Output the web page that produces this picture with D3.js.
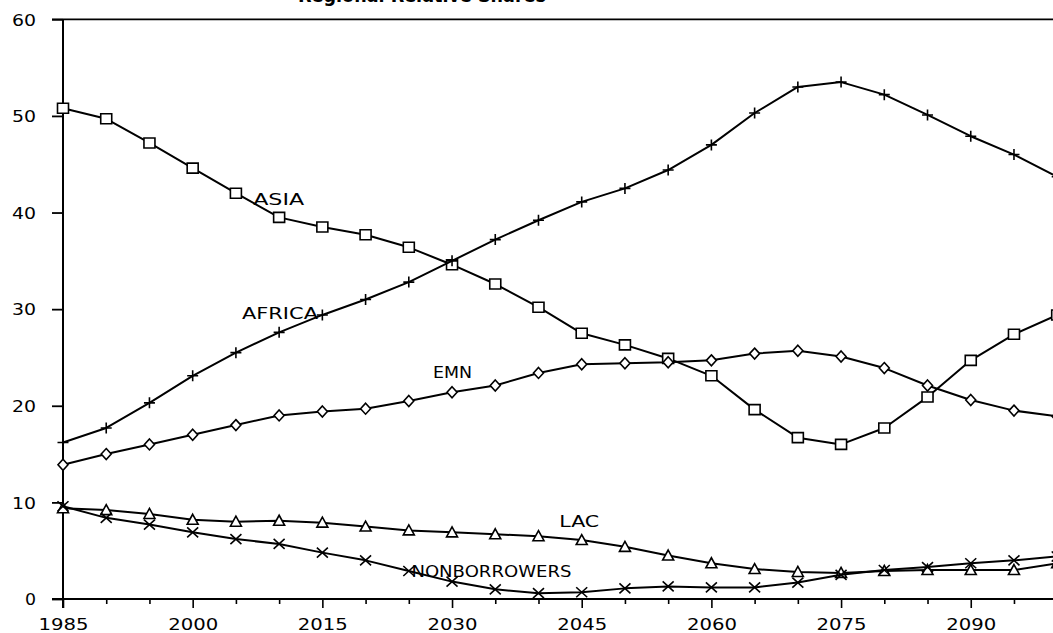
<!DOCTYPE html>
<html>
<head>
<meta charset="utf-8">
<script src="https://cdn.jsdelivr.net/npm/d3@7"></script>
<style>
  html, body { margin: 0; padding: 0; background: #fff; }
  svg { display: block; }
  text { font-family: "DejaVu Sans", sans-serif; fill: #000; }
</style>
</head>
<body>
<svg id="chart" width="1053" height="633"></svg>
<script>
// ---- data ----
const years = [1985, 1990, 1995, 2000, 2005, 2010, 2015, 2020, 2025, 2030, 2035, 2040,
               2045, 2050, 2055, 2060, 2065, 2070, 2075, 2080, 2085, 2090, 2095, 2100];

const asia   = [50.8, 49.7, 47.2, 44.6, 42.0, 39.5, 38.5, 37.7, 36.4, 34.6, 32.6, 30.2,
                27.5, 26.3, 24.9, 23.1, 19.6, 16.7, 16.0, 17.7, 20.9, 24.7, 27.4, 29.4];
const africa = [16.2, 17.7, 20.3, 23.1, 25.5, 27.6, 29.4, 31.0, 32.8, 35.0, 37.2, 39.2,
                41.1, 42.5, 44.4, 47.0, 50.3, 53.0, 53.5, 52.2, 50.1, 47.9, 46.0, 43.7];
const emn    = [13.9, 15.0, 16.0, 17.0, 18.0, 19.0, 19.4, 19.7, 20.5, 21.4, 22.1, 23.4,
                24.3, 24.4, 24.5, 24.7, 25.4, 25.7, 25.1, 23.9, 22.1, 20.6, 19.5, 18.9];
const lac    = [9.4, 9.2, 8.8, 8.2, 8.0, 8.1, 7.9, 7.5, 7.1, 6.9, 6.7, 6.5,
                6.1, 5.4, 4.5, 3.7, 3.1, 2.8, 2.7, 2.9, 3.0, 3.0, 3.0, 3.7];
const nonborrowers = [9.6, 8.4, 7.7, 6.9, 6.2, 5.7, 4.8, 4.0, 2.9, 1.8, 1.0, 0.6,
                      0.7, 1.1, 1.3, 1.2, 1.2, 1.7, 2.5, 3.0, 3.3, 3.7, 4.0, 4.4];

const seriesNames = ["ASIA", "AFRICA", "EMN", "LAC", "NONBORROWERS"];
const xTickLabels = [1985, 2000, 2015, 2030, 2045, 2060, 2075, 2090];
const yTickLabels = [0, 10, 20, 30, 40, 50, 60];
const titleText = "Regional Relative Shares";

// ---- layout ----
const svg = d3.select("#chart");
const x = d3.scaleLinear().domain([1985, 2100]).range([63, 1057.2]);
const y = d3.scaleLinear().domain([0, 60]).range([599, 19.3]);

// marker shapes (plotter style)
const markerPaths = {
  square:   "M-5.5,-5H5.5V5H-5.5Z",
  plus:     "M-5.5,0H5.5M0,-5.5V5.5",
  diamond:  "M0,-5.5L5,0L0,5.5L-5,0Z",
  triangle: "M0,-5.5L5.5,4.5H-5.5Z",
  cross:    "M-5.5,-5L5.5,5M-5.5,5L5.5,-5"
};

const series = [
  { name: seriesNames[0], values: asia,   marker: "square",   label: { year: 2007.0, value: 41.4, width: 51 } },
  { name: seriesNames[1], values: africa, marker: "plus",     label: { year: 2005.7, value: 29.6, width: 76 } },
  { name: seriesNames[2], values: emn,    marker: "diamond",  label: { year: 2027.8, value: 23.5, width: 39 } },
  { name: seriesNames[3], values: lac,    marker: "triangle", label: { year: 2042.4, value: 8.1,  width: 40 } },
  { name: seriesNames[4], values: nonborrowers, marker: "cross", label: { year: 2025.3, value: 2.9, width: 160 } }
];

// title (cut off at top in reference)
svg.append("text")
  .attr("x", 298).attr("y", 2)
  .attr("textLength", 248).attr("lengthAdjust", "spacingAndGlyphs")
  .style("font-size", "20px").style("font-weight", "bold")
  .text(titleText);

// frame: top line
svg.append("line")
  .attr("x1", 52).attr("x2", 1053)
  .attr("y1", y(60)).attr("y2", y(60))
  .attr("stroke", "#000").attr("stroke-width", 1.8);

// y axis
const yAxis = d3.axisLeft(y).tickValues(yTickLabels).tickSize(11).tickPadding(16)
  .tickFormat(d3.format("d"));
const gy = svg.append("g").attr("transform", `translate(${x(1985)},0)`).call(yAxis);
gy.select(".domain").remove();
gy.selectAll(".tick line").attr("stroke", "#000").attr("stroke-width", 1.8);
gy.selectAll(".tick text").style("font-size", "16px").attr("dy", "0.36em")
  .attr("textLength", d => d === 0 ? 11 : 24).attr("lengthAdjust", "spacingAndGlyphs");
svg.append("line")
  .attr("x1", x(1985)).attr("x2", x(1985))
  .attr("y1", y(60)).attr("y2", y(0) + 9)
  .attr("stroke", "#000").attr("stroke-width", 2);

// x axis
const xAxis = d3.axisBottom(x).tickValues(years).tickSize(5).tickPadding(0)
  .tickFormat(d => xTickLabels.includes(d) ? String(d) : "");
const gx = svg.append("g").attr("transform", `translate(0,${y(0)})`).call(xAxis);
gx.select(".domain").remove();
gx.selectAll(".tick line").attr("stroke", "#000").attr("stroke-width", 1.6)
  .attr("y2", d => xTickLabels.includes(d) ? 9 : 5);
gx.selectAll(".tick text").style("font-size", "16px").attr("y", 31).attr("dy", 0)
  .attr("textLength", d => xTickLabels.includes(d) ? 50 : null)
  .attr("lengthAdjust", "spacingAndGlyphs");
svg.append("line")
  .attr("x1", 52).attr("x2", 1053)
  .attr("y1", y(0)).attr("y2", y(0))
  .attr("stroke", "#000").attr("stroke-width", 2);

// lines + markers
const line = d3.line().x((d, i) => x(years[i])).y(d => y(d));
series.forEach(s => {
  svg.append("path")
    .datum(s.values)
    .attr("d", line)
    .attr("fill", "none").attr("stroke", "#000").attr("stroke-width", 2)
    .attr("stroke-linejoin", "round");
  svg.append("g").selectAll("path")
    .data(s.values)
    .join("path")
    .attr("transform", (d, i) => `translate(${x(years[i])},${y(d)})`)
    .attr("d", markerPaths[s.marker])
    .attr("fill", s.marker === "plus" || s.marker === "cross" ? "none" : "#fff")
    .attr("stroke", "#000").attr("stroke-width", 1.6);
  svg.append("text")
    .attr("x", x(s.label.year)).attr("y", y(s.label.value) + 6)
    .attr("textLength", s.label.width).attr("lengthAdjust", "spacingAndGlyphs")
    .style("font-size", "16px")
    .text(s.name);
});
</script>
</body>
</html>
